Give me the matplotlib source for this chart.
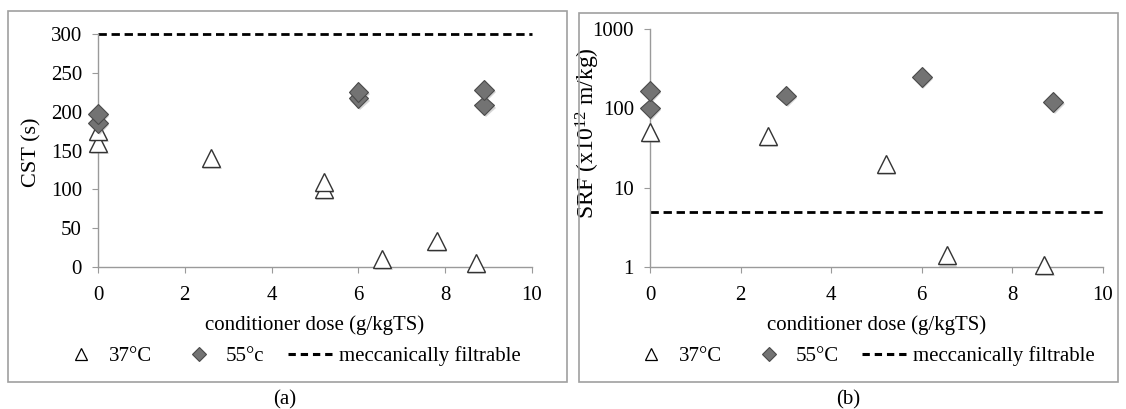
import numpy as np
import matplotlib.pyplot as plt
import matplotlib.patheffects as pe
from matplotlib.lines import Line2D
from matplotlib.patches import Rectangle
from matplotlib.ticker import FixedLocator, NullLocator, FixedFormatter

plt.rcParams['font.family'] = ['Liberation Serif', 'DejaVu Serif']
plt.rcParams['mathtext.default'] = 'regular'
plt.rcParams['font.size'] = 15

# (a) CST
cst_37_x = [0, 0, 2.6, 5.2, 5.2, 6.55, 7.8, 8.7]
cst_37_y = [160, 175, 140, 100, 110, 10, 33, 5]
cst_55_x = [0, 0, 6.0, 6.0, 8.9, 8.9]
cst_55_y = [185, 197, 217, 225, 208, 228]
cst_limit = 300

# (b) SRF
srf_37_x = [0, 2.6, 5.2, 6.55, 8.7]
srf_37_y = [50, 45, 20, 1.4, 1.05]
srf_55_x = [0, 0, 3.0, 6.0, 8.9]
srf_55_y = [100, 165, 145, 250, 120]
srf_limit = 5

grey_spine = '#9a9a9a'
diamond_face = '#737373'
diamond_edge = '#4a4a4a'
fs = 15

W, H = 1126, 409
fig = plt.figure(figsize=(11.26, 4.09), dpi=100)

# cadres des panneaux (pixels)
for x0, x1, y0, y1 in [(8, 567, 11, 382), (579, 1118, 13, 382)]:
    fig.patches.append(Rectangle((x0 / W, 1 - y1 / H), (x1 - x0) / W, (y1 - y0) / H,
                                 transform=fig.transFigure, fill=False, edgecolor='#a0a0a0', lw=1.2))

ax1 = fig.add_axes([98 / W, 1 - 267 / H, (532 - 98) / W, (267 - 34) / H])
ax2 = fig.add_axes([650 / W, 1 - 267 / H, (1103 - 650) / W, (267 - 29) / H])

shadow = [pe.SimplePatchShadow(offset=(1.2, -1.5), shadow_rgbFace='#888888', alpha=0.35), pe.Normal()]


def style(ax, xlab_y):
    for s in ['top', 'right']:
        ax.spines[s].set_visible(False)
    for s in ['left', 'bottom']:
        ax.spines[s].set_color(grey_spine)
        ax.spines[s].set_linewidth(1)
    ax.tick_params(direction='out', length=4.5, color=grey_spine, labelsize=fs)
    ax.tick_params(axis='x', pad=9.5)
    ax.tick_params(axis='y', pad=7)
    ax.set_xlim(0, 10)
    ax.set_xticks([0, 2, 4, 6, 8, 10])
    ax.set_xlabel('conditioner dose (g/kgTS)', fontsize=fs, va='center')
    ax.xaxis.set_label_coords(0.5, xlab_y)
    for sp in ax.spines.values():
        sp.set_clip_on(False)


def points(ax, x37, y37, x55, y55, limit):
    ax.plot([0, 10], [limit, limit], color='black', lw=2, dashes=(3.0, 1.7), clip_on=False, zorder=2)
    ax.plot(x37, y37, linestyle='none', marker='^', markersize=13, markerfacecolor='white',
            markeredgecolor='#333333', markeredgewidth=1, clip_on=False, zorder=3,
            path_effects=shadow)
    ax.plot(x55, y55, linestyle='none', marker='D', markersize=10, markerfacecolor=diamond_face,
            markeredgecolor=diamond_edge, markeredgewidth=0.8, clip_on=False, zorder=4,
            path_effects=shadow)


style(ax1, (267 - 325) / 233)
points(ax1, cst_37_x, cst_37_y, cst_55_x, cst_55_y, cst_limit)
ax1.set_ylim(0, 300)
ax1.set_yticks(np.arange(0, 301, 50))
ax1.set_ylabel('CST (s)', fontsize=16, va='center')
ax1.yaxis.set_label_coords((32 - 98) / 434, (267 - 152) / 233)

style(ax2, (267 - 325) / 238)
points(ax2, srf_37_x, srf_37_y, srf_55_x, srf_55_y, srf_limit)
ax2.set_yscale('log')
ax2.set_ylim(1, 1000)
ax2.yaxis.set_major_locator(FixedLocator([1, 10, 100, 1000]))
ax2.yaxis.set_major_formatter(FixedFormatter(['1', '10', '100', '1000']))
ax2.yaxis.set_minor_locator(NullLocator())
ax2.set_ylabel('SRF (x10$^{12}$ m/kg)', fontsize=17, va='center')
ax2.yaxis.set_label_coords((588 - 650) / 453, (267 - 133) / 238)


def legend(ax, label55, x_left, y_c):
    h = [Line2D([], [], linestyle='none', marker='^', markersize=8.5, markerfacecolor='white',
                markeredgecolor='black', markeredgewidth=0.9),
         Line2D([], [], linestyle='none', marker='D', markersize=7, markerfacecolor=diamond_face,
                markeredgecolor=diamond_edge, markeredgewidth=0.8),
         Line2D([], [], color='black', lw=2.2, dashes=(2.4, 1.6))]
    ax.legend(h, ['37°C', label55, 'meccanically filtrable'], loc='center left',
              bbox_to_anchor=(x_left, y_c), ncol=3, frameon=False, fontsize=fs,
              handlelength=2.25, columnspacing=1.1, handletextpad=0.2,
              borderaxespad=0, borderpad=0)


legend(ax1, '55°c', (58 - 98) / 434, (267 - 356) / 233)
legend(ax2, '55°C', (628 - 650) / 453, (267 - 356) / 238)

fig.text(285 / W, 1 - 400 / H, '(a)', ha='center', va='center', fontsize=fs)
fig.text(848 / W, 1 - 400 / H, '(b)', ha='center', va='center', fontsize=fs)

fig.savefig('out.png', dpi=100)
